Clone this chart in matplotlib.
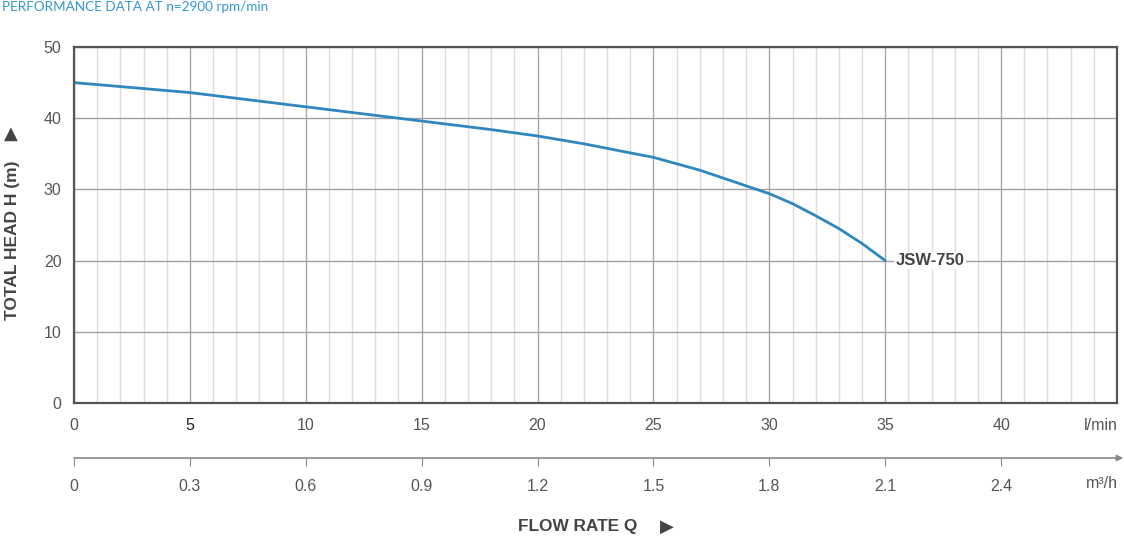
import numpy as np
import matplotlib
matplotlib.use("Agg")
import matplotlib.pyplot as plt

# flow (l/min) vs head (m)
flow = [0, 5, 10, 14, 15, 18, 20, 22, 25, 26, 27, 28, 29, 30, 31, 32, 33, 34, 35]
head = [45, 43.6, 41.6, 40.0, 39.6, 38.4, 37.5, 36.4, 34.5, 33.6, 32.7, 31.6, 30.5,
        29.4, 28.0, 26.3, 24.5, 22.4, 20]

lmin_ticks = [0, 5, 10, 15, 20, 25, 30, 35, 40]
m3h_ticks = [0, 0.3, 0.6, 0.9, 1.2, 1.5, 1.8, 2.1, 2.4]
head_ticks = [0, 10, 20, 30, 40, 50]
model = "JSW-750"

TXT = "#555555"
plt.rcParams['font.family'] = ['Liberation Sans', 'DejaVu Sans']


def main():
    fig = plt.figure(figsize=(11.24, 5.44), dpi=100)
    W, H = 1124.0, 544.0
    ax = fig.add_axes([74 / W, 1 - 403 / H, (1117 - 74) / W, (403 - 47) / H])

    ax.set_xlim(0, 45)
    ax.set_ylim(0, 50)
    ax.set_xticks(np.arange(0, 46, 1), minor=True)
    ax.set_xticks(lmin_ticks)
    ax.set_yticks(head_ticks)
    ax.grid(which="minor", axis="x", color="#dcdcdc", lw=1)
    ax.grid(which="major", axis="x", color="#a8a8a8", lw=1)
    ax.grid(which="major", axis="y", color="#a0a0a0", lw=1)
    ax.set_axisbelow(True)
    for s in ax.spines.values():
        s.set_color("#555555")
        s.set_linewidth(1.6)
    ax.tick_params(which="both", length=0, labelsize=11.5, labelcolor=TXT)
    ax.tick_params(axis="x", pad=10.5)
    ax.tick_params(axis="y", pad=9)
    ax.get_xticklabels()[1].set_color("#222222")

    ax.plot(flow, head, color="#2f87be", lw=2, solid_capstyle="round",
            solid_joinstyle="round")
    ax.text(flow[-1] + 0.45, head[-1], model, fontsize=12, fontweight="bold",
            color="#444444", va="center", ha="left",
            bbox=dict(facecolor="white", edgecolor="none", pad=1))

    fig.text(1118 / W, 1 - 425 / H, "l/min", ha="right", va="center",
             fontsize=11.5, color=TXT)

    # second flow axis in m3/h
    ax2 = fig.add_axes([74 / W, 1 - 458 / H, (1117 - 74) / W, 0.001])
    ax2.set_xlim(0, 2.7)
    ax2.set_ylim(0, 1)
    ax2.patch.set_visible(False)
    for s in ax2.spines.values():
        s.set_visible(False)
    ax2.set_yticks([])
    ax2.set_xticks(m3h_ticks)
    ax2.set_xticklabels(["0" if v == 0 else f"{v:g}" for v in m3h_ticks])
    ax2.tick_params(axis="x", direction="out", length=6, color="#8a8a8a",
                    labelsize=11.5, labelcolor=TXT, pad=9)
    ax2.annotate("", xy=(1.006, 0), xytext=(0, 0), xycoords="axes fraction",
                 arrowprops=dict(arrowstyle="-|>", color="#8a8a8a", lw=1.2,
                                 mutation_scale=9, shrinkA=0, shrinkB=0))
    fig.text(1118 / W, 1 - 483 / H, "m³/h", ha="right", va="center",
             fontsize=11.5, color=TXT)

    fig.text(2 / W, 1 - 7 / H, "PERFORMANCE DATA AT n=2900 rpm/min",
             fontsize=9.7, color="#3597d3", ha="left", va="center",
             family=["Lato", "DejaVu Sans"])

    fig.text(13 / W, 1 - 240 / H, "TOTAL HEAD H (m)", rotation=90,
             fontsize=12.5, fontweight="bold", color="#444444",
             ha="center", va="center")
    fig.text(11 / W, 1 - 134 / H, "▲", fontsize=13, color="#444444",
             ha="center", va="center", family="DejaVu Sans")

    fig.text(578 / W, 1 - 527 / H, "FLOW RATE Q", fontsize=12.4,
             fontweight="bold", color="#444444", ha="center", va="center")
    fig.text(667 / W, 1 - 527 / H, "▶", fontsize=13, color="#444444",
             ha="center", va="center", family="DejaVu Sans")

    fig.savefig("out.png", dpi=100, facecolor="white")


if __name__ == '__main__':
    main()
